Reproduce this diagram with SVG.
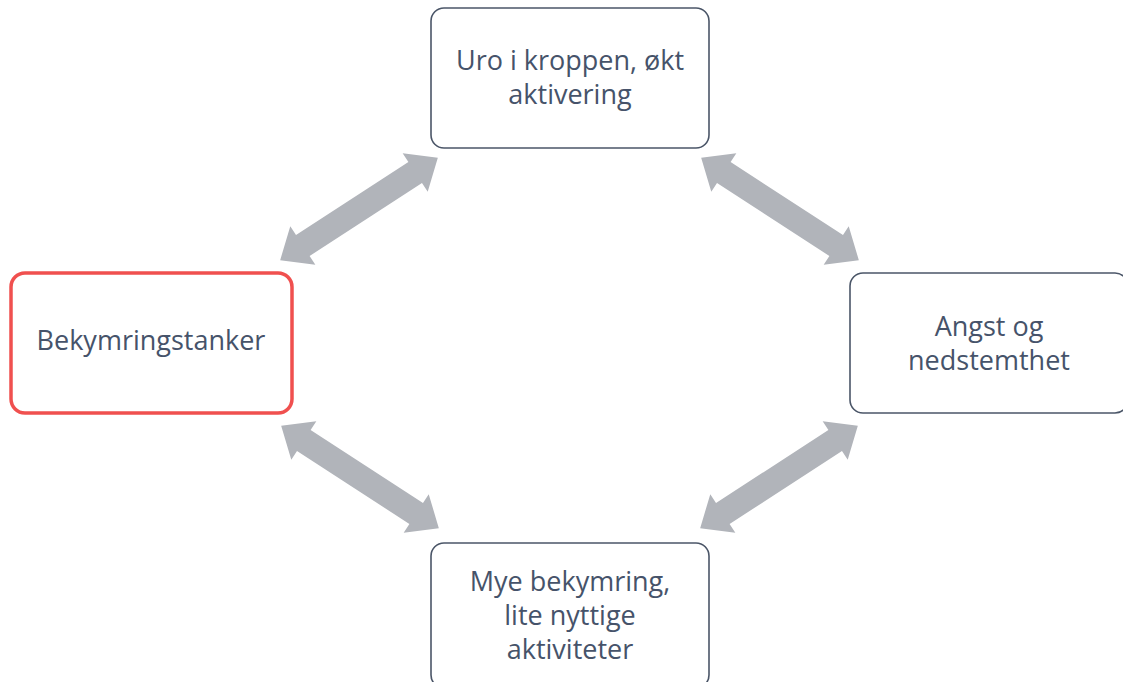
<svg xmlns="http://www.w3.org/2000/svg" width="1123" height="682" viewBox="0 0 1123 682">
<style>
.box{fill:#ffffff;stroke:#4b5668;stroke-width:1.6}
.hl{fill:#ffffff;stroke:#f0504f;stroke-width:3.5}
.t{font-family:"Open Sans","Liberation Sans",sans-serif;font-size:27px;font-weight:500;fill:#46536a;text-anchor:middle}
.arr{fill:#b1b4ba}
</style>
<defs>
<path id="dbl" d="M -94 0 L -67 -23 L -67 -12.5 L 67 -12.5 L 67 -23 L 94 0 L 67 23 L 67 12.5 L -67 12.5 L -67 23 Z"/>
</defs>
<rect width="1123" height="682" fill="#ffffff"/>
<g id="connectors" class="arr">
<use href="#dbl" transform="translate(359,209) rotate(-33)"/>
<use href="#dbl" transform="translate(780,209) rotate(33)"/>
<use href="#dbl" transform="translate(360,477) rotate(33)"/>
<use href="#dbl" transform="translate(779,477) rotate(-33)"/>
</g>
<g id="node-top">
<rect class="box" x="431" y="8" width="278" height="140" rx="13"/>
<text class="t" x="570" y="70">Uro i kroppen, økt</text>
<text class="t" x="570" y="104">aktivering</text>
</g>
<g id="node-left">
<rect class="hl" x="11" y="273" width="281" height="140" rx="14"/>
<text class="t" x="151" y="350">Bekymringstanker</text>
</g>
<g id="node-right">
<rect class="box" x="850" y="273" width="278" height="140" rx="13"/>
<text class="t" x="989" y="336">Angst og</text>
<text class="t" x="989" y="370">nedstemthet</text>
</g>
<g id="node-bottom">
<rect class="box" x="431" y="543" width="278" height="145" rx="13"/>
<text class="t" x="570" y="591">Mye bekymring,</text>
<text class="t" x="570" y="625">lite nyttige</text>
<text class="t" x="570" y="659">aktiviteter</text>
</g>
</svg>
